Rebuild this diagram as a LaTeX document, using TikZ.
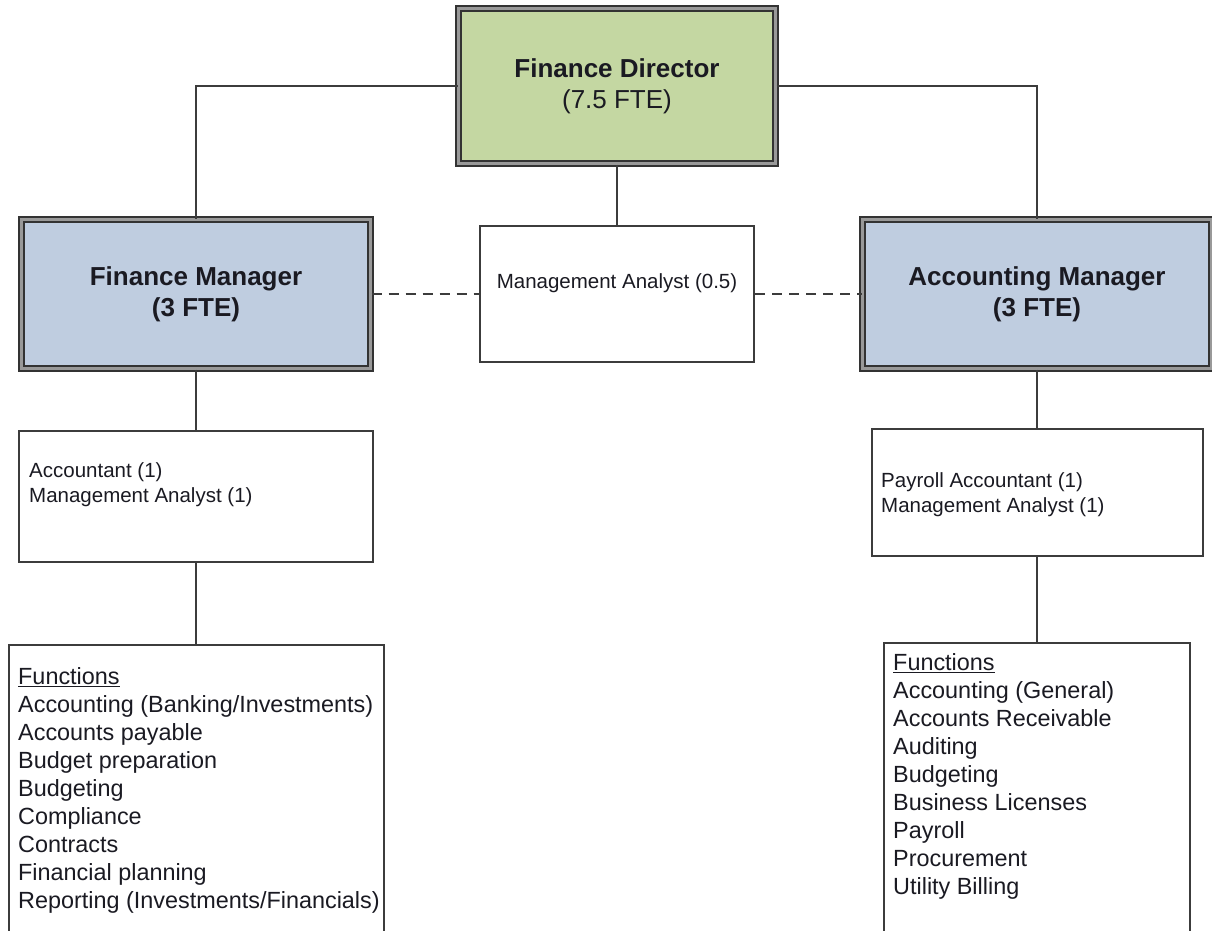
\documentclass[tikz,border=0pt]{standalone}
\usepackage{fontspec}
\setmainfont{Liberation Sans}
\usepackage{tikz}
\usetikzlibrary{positioning}

\definecolor{dirgreen}{HTML}{C4D7A2}
\definecolor{mgrblue}{HTML}{BFCDE0}
\definecolor{edgegray}{HTML}{3C3C3C}
\definecolor{inkblack}{HTML}{1A1A22}

\begin{document}
\begin{tikzpicture}[x=1pt, y=-1pt, text=inkblack,
    headbox/.style={draw=black!80, line width=2pt, double=black!40, double distance=3pt,
        align=center, inner sep=0pt, font=\fontsize{26pt}{31pt}\selectfont},
    plainbox/.style={draw=edgegray, line width=2pt, fill=white, inner sep=0pt},
    smalltext/.style={align=left, inner sep=0pt, font=\fontsize{20.5pt}{25pt}\selectfont},
    listtext/.style={align=left, inner sep=0pt, font=\fontsize{23.4pt}{28pt}\selectfont},
    link/.style={draw=edgegray, line width=1.7pt},
    dashlink/.style={link, line width=2pt, dash pattern=on 10pt off 7pt}]

\useasboundingbox (0,0) rectangle (1212,930);
\fill[white] (0,0) rectangle (1212,930);
\clip (0,0) rectangle (1212,930);

% Top level
\node[headbox, fill=dirgreen, minimum width=317pt, minimum height=155pt] (dir) at (617,86)
    {\textbf{Finance Director}\\(7.5 FTE)};

% Managers
\node[headbox, fill=mgrblue, minimum width=349pt, minimum height=149pt] (fm) at (196,294)
    {\textbf{Finance Manager}\\\textbf{(3 FTE)}};
\node[headbox, fill=mgrblue, minimum width=349pt, minimum height=149pt] (am) at (1037,294)
    {\textbf{Accounting Manager}\\\textbf{(3 FTE)}};
\node[plainbox, minimum width=274pt, minimum height=136pt] (ana) at (617,294) {};
\node[smalltext, anchor=north] (anatext) at ([yshift=-48pt]ana.north) {Management Analyst (0.5)};

% Staff
\node[plainbox, minimum width=354pt, minimum height=131pt] (acc) at (196,496.5) {};
\node[smalltext, anchor=north west] (acctext) at (29,462)
    {Accountant (1)\\Management Analyst (1)};
\node[plainbox, minimum width=331pt, minimum height=127pt] (pay) at (1037,492.5) {};
\node[smalltext, anchor=north west] (paytext) at (881,472)
    {Payroll Accountant (1)\\Management Analyst (1)};

% Functions
\node[plainbox, minimum width=375pt, minimum height=330pt, anchor=north] (lfun) at (196,644) {};
\node[listtext, anchor=north west] (lfuntext) at (18,667)
    {\underline{Functions}\\Accounting (Banking/Investments)\\Accounts payable\\Budget preparation\\
     Budgeting\\Compliance\\Contracts\\Financial planning\\Reporting (Investments/Financials)};
\node[plainbox, minimum width=306pt, minimum height=330pt, anchor=north] (rfun) at (1037,642) {};
\node[listtext, anchor=north west] (rfuntext) at (893,653)
    {\underline{Functions}\\Accounting (General)\\Accounts Receivable\\Auditing\\Budgeting\\
     Business Licenses\\Payroll\\Procurement\\Utility Billing};

% Lines
\draw[link] (dir.west) -| (fm.north);
\draw[link] (dir.east) -| (am.north);
\draw[link] (dir.south) -- (ana.north);
\draw[dashlink] (fm.east) -- (ana.west);
\draw[dashlink] (ana.east) -- (am.west);
\draw[link] (fm.south) -- (acc.north);
\draw[link] (acc.south) -- (lfun.north);
\draw[link] (am.south) -- (pay.north);
\draw[link] (pay.south) -- (rfun.north);

\end{tikzpicture}
\end{document}
